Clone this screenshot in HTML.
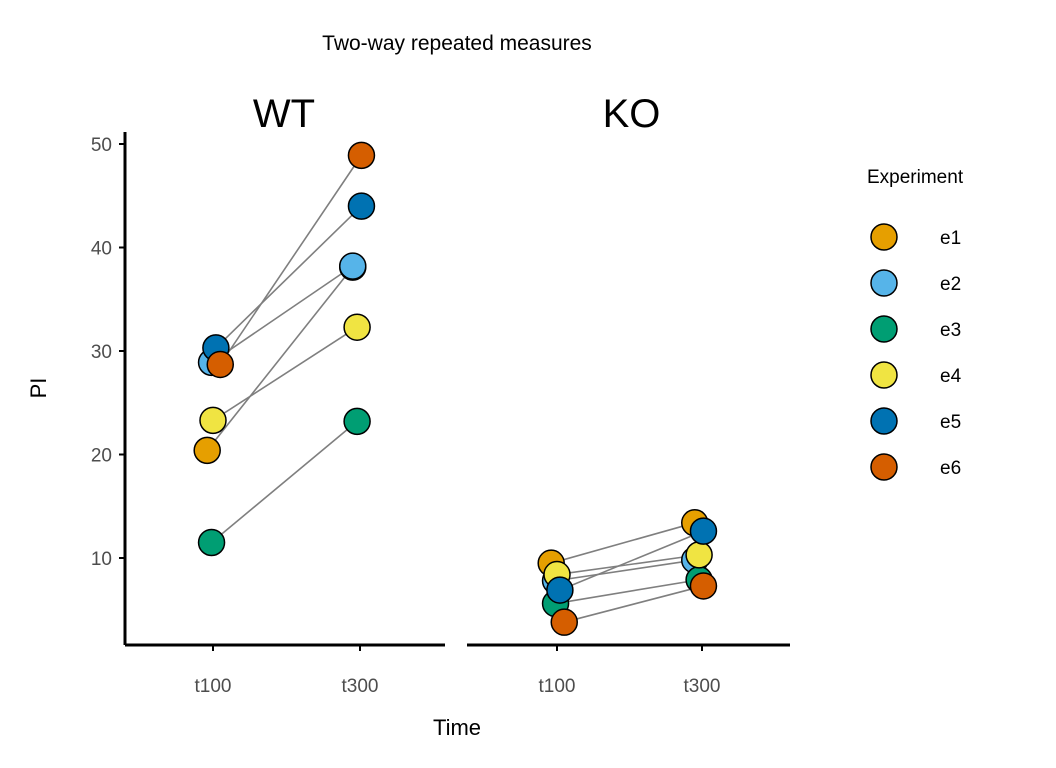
<!DOCTYPE html>
<html><head><meta charset="utf-8"><style>body{margin:0;background:#fff}svg{display:block;font-family:"Liberation Sans",sans-serif}</style></head>
<body>
<svg id="c" width="1056" height="768"></svg>
<script>
const experiments=["e1","e2","e3","e4","e5","e6"];
const colors=["#E69F00","#56B4E9","#009E73","#F0E442","#0072B2","#D55E00"];
const panels=["WT","KO"];
const times=["t100","t300"];
const wtT100=[20.4,28.9,11.5,23.3,30.3,28.7];
const wtT300=[38.1,38.2,23.2,32.3,44.0,48.9];
const koT100=[9.5,7.8,5.6,8.4,6.9,3.8];
const koT300=[13.4,9.8,7.9,10.3,12.6,7.3];
const jitT100=[-0.04,-0.01,-0.01,0.0,0.02,0.05];
const jitT300=[-0.05,-0.05,-0.02,-0.02,0.01,0.01];
const yTicks=[10,20,30,40,50];
const NS="http://www.w3.org/2000/svg",svg=document.getElementById("c");
function mk(t,a,p){const e=document.createElementNS(NS,t);for(const k in a)e.setAttribute(k,a[k]);(p||svg).appendChild(e);return e;}
const y=v=>558-(v-10)*10.35;
const panelX=[{x0:125,x1:445,t:[213,360]},{x0:467,x1:790,t:[557,702]}];
const xs=(p,ti,j)=>panelX[p].t[ti]+j*145;
function txt(s,x,yy,size,fill,anchor,name,extra){const e=mk("text",Object.assign({x:x,y:yy,"font-size":size,fill:fill,"text-anchor":anchor},extra||{}));e.textContent=s;return e;}
txt("Two-way repeated measures",457,50,21,"#000","middle","chart-title");
const ya=mk("line",{x1:125,x2:125,y1:132,y2:645,stroke:"#000","stroke-width":3});

yTicks.forEach(v=>{const l=mk("line",{x1:119,x2:125,y1:y(v),y2:y(v),stroke:"#000","stroke-width":2});
txt(String(v),112,y(v)+7,19,"#4d4d4d","end","y-tick-label");});
txt("PI",46,388,22,"#000","middle","y-axis-title",{transform:"rotate(-90 46 388)"});
const data=[[wtT100,wtT300],[koT100,koT300]];
panels.forEach((pn,p)=>{
 const P=panelX[p];
 const xa=mk("line",{x1:P.x0,x2:P.x1,y1:645,y2:645,stroke:"#000","stroke-width":3});
 
 times.forEach((t,ti)=>{const l=mk("line",{x1:P.t[ti],x2:P.t[ti],y1:645,y2:651,stroke:"#000","stroke-width":2});
 txt(t,P.t[ti],692,19,"#4d4d4d","middle","x-tick-label");});
 txt(pn,(P.x0+P.x1)/2+(p?3:-1),127,40,"#000","middle","strip-label-"+pn.toLowerCase());
 experiments.forEach((e,i)=>{const l=mk("line",{x1:xs(p,0,jitT100[i]),y1:y(data[p][0][i]),x2:xs(p,1,jitT300[i]),y2:y(data[p][1][i]),stroke:"#7f7f7f","stroke-width":1.6});
 });
 [0,1].forEach(ti=>experiments.forEach((e,i)=>{const c=mk("circle",{cx:xs(p,ti,ti?jitT300[i]:jitT100[i]),cy:y(data[p][ti][i]),r:13,fill:colors[i],stroke:"#000","stroke-width":1.5});
 }));
});
txt("Time",457,735,22,"#000","middle","x-axis-title");
txt("Experiment",867,183,19,"#000","start","legend-title");
experiments.forEach((e,i)=>{const cy=237+i*46;const c=mk("circle",{cx:884,cy:cy,r:13,fill:colors[i],stroke:"#000","stroke-width":1.5});

txt(e,940,cy+7,19,"#000","start","legend-label-"+e);});
</script>
</body></html>
